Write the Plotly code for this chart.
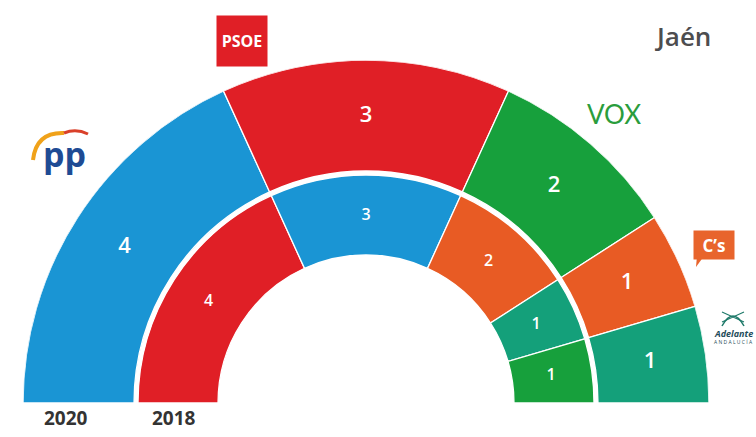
import plotly.graph_objects as go

# ---- data ----
parties_2020 = ["PP", "PSOE", "VOX", "Cs", "Adelante Andalucía"]
seats_2020 = [4, 3, 2, 1, 1]
colors_2020 = ["#1a95d4", "#e01f26", "#17a03c", "#e85b24", "#14a07a"]

parties_2018 = ["PSOE", "PP", "Cs", "Adelante Andalucía", "VOX"]
seats_2018 = [4, 3, 2, 1, 1]
colors_2018 = ["#e01f26", "#1a95d4", "#e85b24", "#14a07a", "#17a03c"]

year_labels = ["2020", "2018"]
region_title = "Jaén"

W, H = 756, 437
CX, CY, R = 366, 403, 343  # pixel geometry of the hemicycle


def ring(seats, colors, base, thick, label_r, size, name):
    total = sum(seats)
    unit = 180.0 / total
    thetas, widths, acc = [], [], 0
    for s in seats:
        thetas.append((acc + s / 2) * unit)
        widths.append(s * unit)
        acc += s
    bars = go.Barpolar(
        theta=thetas, width=widths, r=[thick] * len(seats), base=[base] * len(seats),
        marker=dict(color=colors, line=dict(color="white", width=1.3)),
        name=name, showlegend=False, hoverinfo="skip",
    )
    txt = go.Scatterpolar(
        theta=thetas, r=[label_r] * len(seats), mode="text",
        text=[str(s) for s in seats],
        textfont=dict(color="white", size=size, family="Open Sans", weight=600),
        showlegend=False, hoverinfo="skip",
    )
    return [bars, txt]


fig = go.Figure()
for t in ring(seats_2020, colors_2020, 232, 111, 287, 22, "2020"):
    fig.add_trace(t)
for t in ring(seats_2018, colors_2018, 148, 80, 187, 16, "2018"):
    fig.add_trace(t)


def px(x):
    return x / W


def py(y):
    return 1 - y / H


fig.update_layout(
    width=W, height=H,
    margin=dict(l=0, r=0, t=0, b=0),
    paper_bgcolor="white",
    polar=dict(
        domain=dict(x=[px(CX - R), px(CX + R)], y=[py(CY), py(CY - R)]),
        sector=[0, 180],
        bgcolor="white",
        radialaxis=dict(range=[0, R], visible=False, showgrid=False),
        angularaxis=dict(rotation=180, direction="clockwise", visible=False, showgrid=False),
    ),
)


def label(x, y, text, font, **kw):
    d = dict(x=px(x), y=py(y), xref="paper", yref="paper", text=text, showarrow=False,
             xanchor="center", yanchor="middle", font=font)
    d.update(kw)
    return d


ann = [
    label(683, 36, region_title, dict(family="Open Sans", size=26, color="#4d4d4f", weight=600)),
    label(66, 418, year_labels[0], dict(family="Open Sans", size=19, color="#333333", weight=700)),
    label(174, 418, year_labels[1], dict(family="Open Sans", size=19, color="#333333", weight=700)),
    label(242, 41, "<b>PSOE</b>", dict(family="Open Sans", size=16, color="white"),
          bgcolor="#e01f26", width=46, height=46, borderpad=2),
    label(64, 154, "<b>pp</b>", dict(family="Open Sans", size=34, color="#1e4b94")),
    label(614, 114, "VOX", dict(family="Lato", size=26, color="#2a9d3c")),
    label(714, 245, "<b>C’s</b>", dict(family="Open Sans", size=17, color="white"),
          bgcolor="#e8642c", width=38, height=26, borderpad=1),
    label(733, 333, "<b><i>Adelante</i></b>", dict(family="Open Sans", size=9, color="#1f4d5a")),
    label(733, 342, "A N D A L U C Í A", dict(family="Open Sans", size=5, color="#1f4d5a")),
]
fig.update_layout(annotations=ann)

# decorative logo strokes (PP arc, Cs tail, Adelante icon)
shapes = [
    dict(type="path", xref="paper", yref="paper",
         path=f"M {px(33)},{py(160)} Q {px(36)},{py(132)} {px(64)},{py(133)}",
         line=dict(color="#f0a21a", width=4)),
    dict(type="path", xref="paper", yref="paper",
         path=f"M {px(64)},{py(133)} Q {px(76)},{py(128)} {px(88)},{py(134)}",
         line=dict(color="#d9402a", width=3)),
    dict(type="path", xref="paper", yref="paper",
         path=f"M {px(697)},{py(256)} L {px(704)},{py(256)} L {px(696)},{py(267)} Z",
         fillcolor="#e8642c", line=dict(width=0)),
    dict(type="path", xref="paper", yref="paper",
         path=f"M {px(722)},{py(326)} Q {px(733)},{py(306)} {px(744)},{py(326)}",
         line=dict(color="#1f7a6a", width=1.5)),
    dict(type="path", xref="paper", yref="paper",
         path=f"M {px(722)},{py(312)} L {px(744)},{py(322)} M {px(722)},{py(322)} L {px(744)},{py(312)}",
         line=dict(color="#1f7a6a", width=1.2)),
]
fig.update_layout(shapes=shapes)

fig.write_html("out.html")
